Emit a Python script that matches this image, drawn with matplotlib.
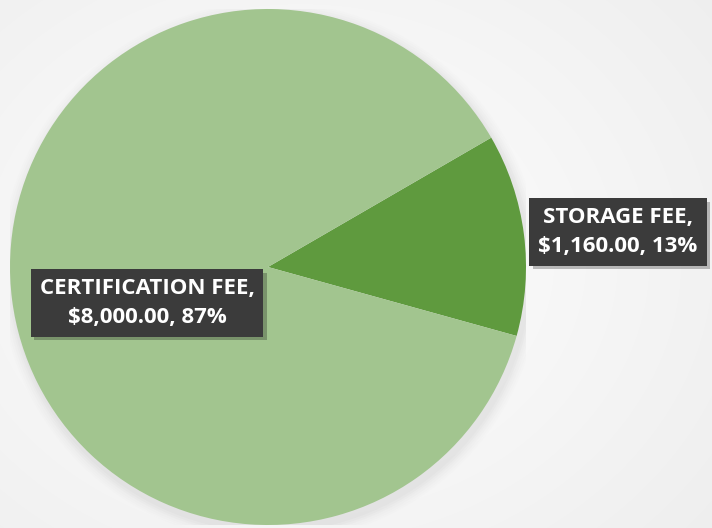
import matplotlib
matplotlib.use("Agg")
import matplotlib.pyplot as plt
import matplotlib.patheffects as pe
import numpy as np

categories = ["STORAGE FEE", "CERTIFICATION FEE"]
values = [1160.00, 8000.00]
colors = ["#5F9A3E", "#A2C58F"]

W, H = 712, 528
fig = plt.figure(figsize=(W / 100, H / 100), dpi=100)

# background gradient
bg = fig.add_axes([0, 0, 1, 1])
yy, xx = np.mgrid[0:H, 0:W]
d = np.sqrt(((xx - 300) / 520.0) ** 2 + ((yy - 260) / 420.0) ** 2)
shade = 1.0 - 0.09 * np.clip(d, 0, 1.4) / 1.4
bg.imshow(np.dstack([shade, shade, shade]), extent=[0, W, H, 0], aspect="auto")
bg.set_xlim(0, W)
bg.set_ylim(H, 0)
bg.axis("off")

cx, cy, r = 268, 267, 258
ax = fig.add_axes([(cx - r) / W, (H - cy - r) / H, 2 * r / W, 2 * r / H])
ax.set_xlim(-1, 1)
ax.set_ylim(-1, 1)
ax.axis("off")

# soft shadow
for i, a in enumerate(np.linspace(0.05, 0.01, 6)):
    c = plt.Circle((0.01, -0.02), 1.0 + 0.008 * (i + 1), color="#9a9a9a", alpha=a, lw=0, zorder=0)
    ax.add_patch(c)

total = sum(values)
wedges, _ = ax.pie(values, colors=colors, startangle=-15.5, counterclock=True,
                   radius=1.0, center=(0, 0), frame=False,
                   wedgeprops=dict(linewidth=0))
ax.set_xlim(-1, 1)
ax.set_ylim(-1, 1)

label_pos = [((618 - cx) / r, (cy - 232) / r), ((147 - cx) / r, (cy - 303) / r)]
for cat, v, pos in zip(categories, values, label_pos):
    pct = round(v / total * 100)
    txt = f"{cat},\n${v:,.2f}, {pct}%"
    t = ax.text(pos[0], pos[1], txt, color="white", zorder=5,
                ha="center", va="center", fontsize=16, fontweight="bold",
                family=["Open Sans", "DejaVu Sans"], linespacing=1.5, clip_on=False,
                bbox=dict(boxstyle="square,pad=0.4", fc="#3B3B3B", ec="none"))
    t.get_bbox_patch().set_path_effects(
        [pe.SimplePatchShadow(offset=(2.5, -2.5), shadow_rgbFace="black", alpha=0.25), pe.Normal()])

fig.savefig("out.png", dpi=100)
